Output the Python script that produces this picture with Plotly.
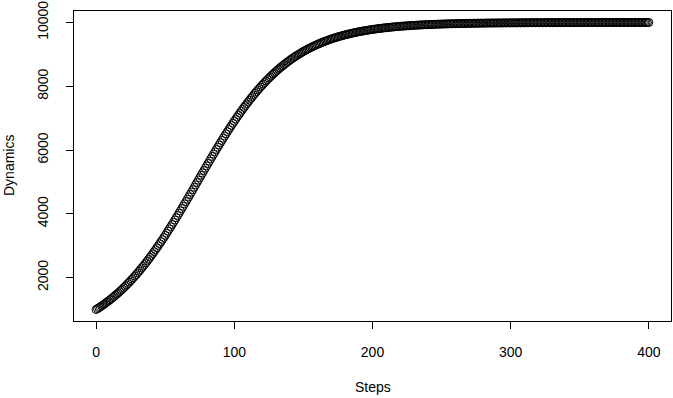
import plotly.graph_objects as go

steps = list(range(0, 401))

dynamics = [
    1000, 1027, 1055, 1084, 1113, 1143, 1174, 1206, 1238, 1271,
    1304, 1339, 1374, 1410, 1447, 1484, 1522, 1561, 1601, 1642,
    1684, 1726, 1769, 1814, 1859, 1904, 1951, 1999, 2047, 2096,
    2146, 2197, 2249, 2302, 2356, 2410, 2465, 2521, 2578, 2636,
    2695, 2754, 2815, 2876, 2938, 3000, 3064, 3128, 3193, 3258,
    3324, 3391, 3459, 3527, 3596, 3665, 3735, 3806, 3877, 3948,
    4020, 4092, 4165, 4238, 4311, 4385, 4459, 4533, 4608, 4682,
    4757, 4832, 4907, 4982, 5057, 5132, 5207, 5282, 5356, 5431,
    5505, 5579, 5653, 5727, 5800, 5873, 5945, 6018, 6089, 6160,
    6231, 6301, 6371, 6440, 6509, 6576, 6644, 6710, 6776, 6841,
    6906, 6969, 7032, 7095, 7156, 7217, 7277, 7336, 7394, 7451,
    7508, 7564, 7618, 7672, 7726, 7778, 7829, 7880, 7930, 7978,
    8026, 8073, 8120, 8165, 8210, 8253, 8296, 8338, 8379, 8419,
    8459, 8498, 8536, 8573, 8609, 8645, 8679, 8713, 8747, 8779,
    8811, 8842, 8872, 8902, 8931, 8959, 8987, 9014, 9040, 9066,
    9091, 9116, 9139, 9163, 9186, 9208, 9229, 9250, 9271, 9291,
    9310, 9329, 9348, 9366, 9384, 9401, 9417, 9434, 9449, 9465,
    9480, 9494, 9509, 9522, 9536, 9549, 9562, 9574, 9586, 9598,
    9609, 9621, 9631, 9642, 9652, 9662, 9672, 9681, 9690, 9699,
    9708, 9716, 9724, 9732, 9740, 9747, 9755, 9762, 9769, 9775,
    9782, 9788, 9794, 9800, 9806, 9812, 9817, 9822, 9828, 9833,
    9837, 9842, 9847, 9851, 9856, 9860, 9864, 9868, 9872, 9875,
    9879, 9883, 9886, 9889, 9893, 9896, 9899, 9902, 9905, 9907,
    9910, 9913, 9915, 9918, 9920, 9923, 9925, 9927, 9929, 9931,
    9933, 9935, 9937, 9939, 9941, 9942, 9944, 9946, 9947, 9949,
    9950, 9952, 9953, 9955, 9956, 9957, 9959, 9960, 9961, 9962,
    9963, 9964, 9965, 9966, 9967, 9968, 9969, 9970, 9971, 9972,
    9973, 9974, 9974, 9975, 9976, 9977, 9977, 9978, 9979, 9979,
    9980, 9980, 9981, 9982, 9982, 9983, 9983, 9984, 9984, 9985,
    9985, 9985, 9986, 9986, 9987, 9987, 9987, 9988, 9988, 9989,
    9989, 9989, 9990, 9990, 9990, 9990, 9991, 9991, 9991, 9992,
    9992, 9992, 9992, 9992, 9993, 9993, 9993, 9993, 9994, 9994,
    9994, 9994, 9994, 9994, 9995, 9995, 9995, 9995, 9995, 9995,
    9996, 9996, 9996, 9996, 9996, 9996, 9996, 9996, 9996, 9997,
    9997, 9997, 9997, 9997, 9997, 9997, 9997, 9997, 9997, 9997,
    9998, 9998, 9998, 9998, 9998, 9998, 9998, 9998, 9998, 9998,
    9998, 9998, 9998, 9998, 9998, 9998, 9998, 9999, 9999, 9999,
    9999, 9999, 9999, 9999, 9999, 9999, 9999, 9999, 9999, 9999,
    9999, 9999, 9999, 9999, 9999, 9999, 9999, 9999, 9999, 9999,
    9999, 9999, 9999, 9999, 9999, 9999, 9999, 9999, 9999, 9999,
    9999,
]

x_ticks = [0, 100, 200, 300, 400]
y_ticks = [2000, 4000, 6000, 8000, 10000]
x_label = "Steps"
y_label = "Dynamics"

FONT = "Liberation Sans, Arial, Helvetica, sans-serif"
FS = 14

fig = go.Figure()
fig.add_trace(go.Scatter(
    x=steps, y=dynamics, mode="markers",
    marker=dict(symbol="circle-open", size=8, color="black",
                line=dict(width=1, color="black")),
    showlegend=False,
))

axis_common = dict(
    showgrid=False, zeroline=False,
    showline=True, linecolor="black", linewidth=1, mirror=True,
    ticks="outside", ticklen=7, tickwidth=1, tickcolor="black",
    tickfont=dict(family=FONT, size=FS, color="black"),
)

fig.update_xaxes(range=[-16, 416], tickvals=x_ticks,
                 ticktext=[str(v) for v in x_ticks],
                 ticklabelstandoff=11, **axis_common)
fig.update_yaxes(range=[640, 10360], tickvals=y_ticks,
                 ticktext=[str(v) for v in y_ticks],
                 tickangle=-90, ticklabelstandoff=12, **axis_common)

fig.add_annotation(text=x_label, xref="paper", yref="paper", x=0.5, y=0,
                   xanchor="center", yanchor="middle", yshift=-66,
                   showarrow=False, font=dict(family=FONT, size=FS, color="black"))
fig.add_annotation(text=y_label, xref="paper", yref="paper", x=0, y=0.5,
                   xanchor="center", yanchor="middle", xshift=-65, textangle=-90,
                   showarrow=False, font=dict(family=FONT, size=FS, color="black"))

fig.update_layout(
    width=673, height=398,
    margin=dict(l=73.5, r=2, t=10.5, b=77, pad=0),
    plot_bgcolor="white", paper_bgcolor="white",
    hovermode=False,
)

fig.write_html("out.html",
               config={"displayModeBar": False},
               post_script="document.body.style.margin='0';document.body.style.overflow='hidden';")
